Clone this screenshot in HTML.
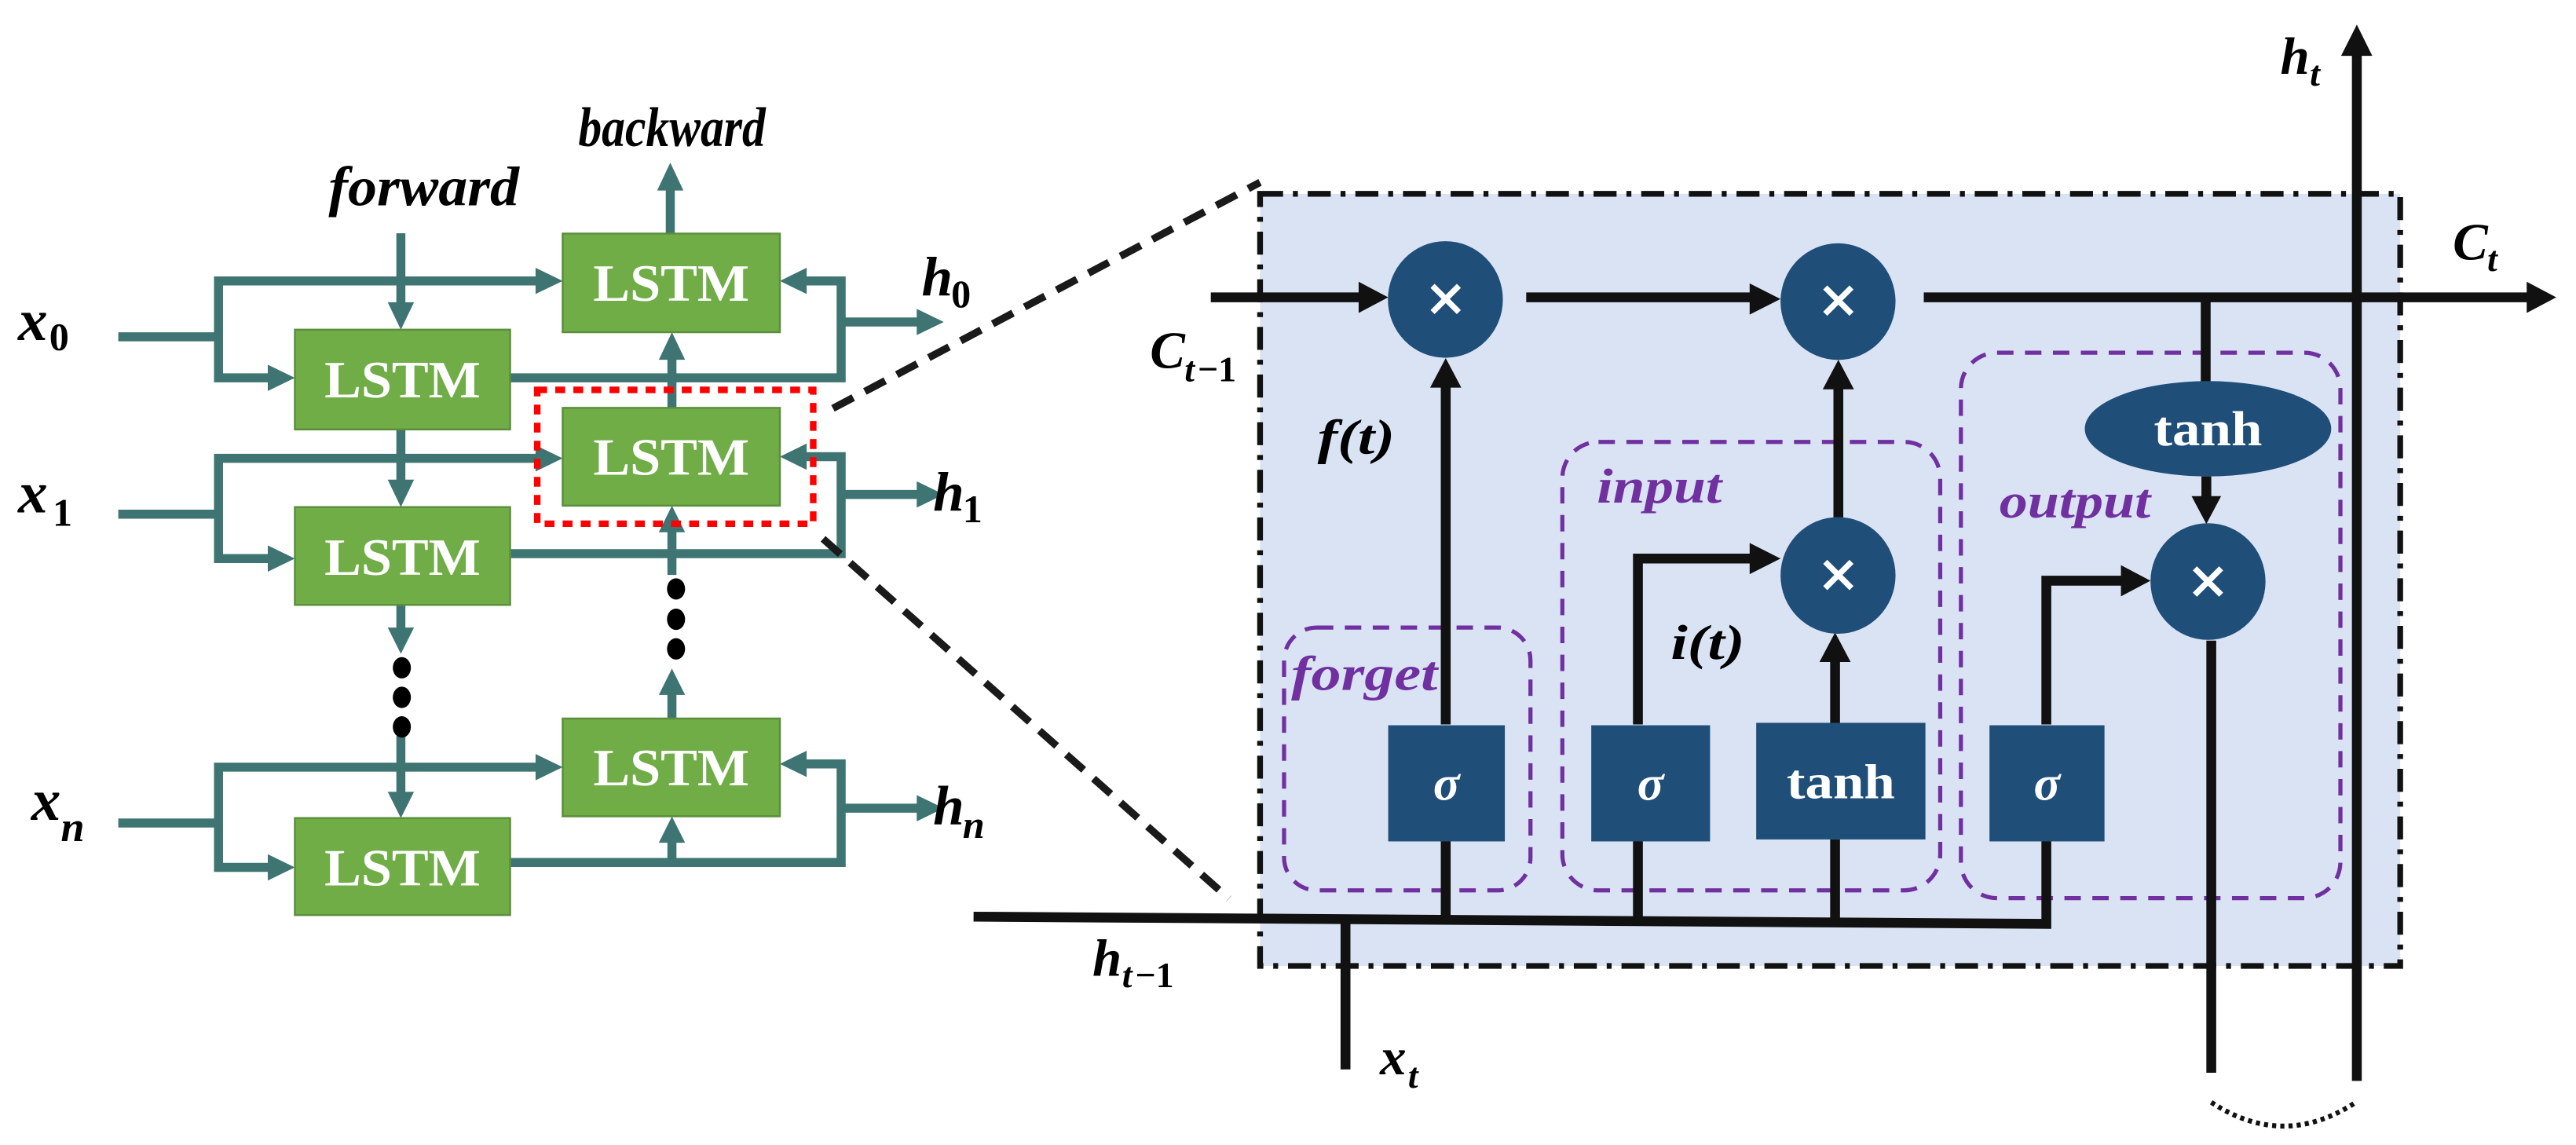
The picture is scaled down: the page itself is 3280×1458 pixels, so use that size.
<!DOCTYPE html>
<html><head><meta charset="utf-8"><style>
html,body{margin:0;padding:0;background:#fff;}
svg{display:block;}
text{font-family:"Liberation Serif",serif;}
</style></head><body>
<svg width="3280" height="1458" viewBox="0 0 1568 697" xmlns="http://www.w3.org/2000/svg">
<g fill="none" stroke="#3e7572" stroke-width="5.5" stroke-linejoin="miter">
 <line x1="72" y1="205" x2="133" y2="205"/>
 <polyline points="330,171 133,171 133,230 168,230"/>
 <line x1="244" y1="142" x2="244" y2="188"/>
 <polyline points="310.5,230 512,230 512,171 488,171"/>
 <line x1="512" y1="196" x2="560" y2="196"/>
 <line x1="408" y1="142" x2="408" y2="114"/>
 <line x1="409" y1="248" x2="409" y2="216"/>
 <line x1="72" y1="313" x2="133" y2="313"/>
 <polyline points="330,279 133,279 133,340 168,340"/>
 <line x1="244" y1="261" x2="244" y2="296"/>
 <polyline points="310.5,337 512,337 512,278 488,278"/>
 <line x1="512" y1="301" x2="560" y2="301"/>
 <line x1="244" y1="368" x2="244" y2="386"/>
 <line x1="244" y1="448" x2="244" y2="485"/>
 <line x1="409" y1="350" x2="409" y2="322"/>
 <line x1="409" y1="437" x2="409" y2="421"/>
 <line x1="72" y1="501" x2="133" y2="501"/>
 <polyline points="330,467 133,467 133,528 168,528"/>
 <polyline points="310.5,525 512,525 512,465 488,465"/>
 <line x1="512" y1="492" x2="560" y2="492"/>
 <line x1="409" y1="525" x2="409" y2="511"/>
</g>
<g fill="#3e7572">
 <polygon points="342.5,171 326,163 326,179"/>
 <polygon points="179.5,230 163,222 163,238"/>
 <polygon points="244,200.7 236,184 252,184"/>
 <polygon points="474.7,171 491,163 491,179"/>
 <polygon points="574.5,196 558,188 558,204"/>
 <polygon points="408,99 400,116 416,116"/>
 <polygon points="409,202.2 401,219 417,219"/>
 <polygon points="342.5,279 326,271 326,287"/>
 <polygon points="179.5,340 163,332 163,348"/>
 <polygon points="244,308.7 236,292 252,292"/>
 <polygon points="474.7,278 491,270 491,286"/>
 <polygon points="574.5,301 558,293 558,309"/>
 <polygon points="244,398 236,382 252,382"/>
 <polygon points="244,498 236,482 252,482"/>
 <polygon points="409,307.8 401,324 417,324"/>
 <polygon points="409,407 401,423 417,423"/>
 <polygon points="342.5,467 326,459 326,475"/>
 <polygon points="179.5,528 163,520 163,536"/>
 <polygon points="474.7,465 491,457 491,473"/>
 <polygon points="574.5,492 558,484 558,500"/>
 <polygon points="409,497 401,513 417,513"/>
</g>
<g fill="#000">
 <ellipse cx="244.6" cy="406.5" rx="5.5" ry="6.5"/><ellipse cx="244.6" cy="424.5" rx="5.5" ry="6.5"/><ellipse cx="244.6" cy="442.5" rx="5.5" ry="6.5"/>
 <ellipse cx="411.5" cy="358.5" rx="5.5" ry="6.5"/><ellipse cx="411.5" cy="377" rx="5.5" ry="6.5"/><ellipse cx="411.5" cy="395" rx="5.5" ry="6.5"/>
</g>
<g fill="#70ad47" stroke="#5b8f3b" stroke-width="1.2">
 <rect x="179.5" y="200.7" width="131" height="60.7"/>
 <rect x="342.5" y="142.2" width="132.2" height="60"/>
 <rect x="179.5" y="308.7" width="131" height="59.5"/>
 <rect x="342.5" y="248.3" width="132.2" height="59.5"/>
 <rect x="342.5" y="437.4" width="132.2" height="59.5"/>
 <rect x="179.5" y="498" width="131" height="59"/>
</g>
<g fill="#fff" font-weight="bold" font-size="32" text-anchor="middle">
 <text x="245" y="242" textLength="95" lengthAdjust="spacingAndGlyphs">LSTM</text>
 <text x="408.6" y="183" textLength="95" lengthAdjust="spacingAndGlyphs">LSTM</text>
 <text x="245" y="350" textLength="95" lengthAdjust="spacingAndGlyphs">LSTM</text>
 <text x="408.6" y="289" textLength="95" lengthAdjust="spacingAndGlyphs">LSTM</text>
 <text x="408.6" y="478" textLength="95" lengthAdjust="spacingAndGlyphs">LSTM</text>
 <text x="245" y="539" textLength="95" lengthAdjust="spacingAndGlyphs">LSTM</text>
</g>
<rect x="327" y="237.3" width="168" height="81.5" fill="none" stroke="#f00" stroke-width="4" stroke-dasharray="6 5"/>
<g font-weight="bold" font-style="italic" fill="#000">
 <text x="200" y="125" font-size="34" textLength="116" lengthAdjust="spacingAndGlyphs">forward</text>
 <text x="352" y="89" font-size="34" textLength="114" lengthAdjust="spacingAndGlyphs">backward</text>
 <text x="11" y="207" font-size="36">x</text><text x="30" y="213" font-size="24" font-style="normal">0</text>
 <text x="11" y="312" font-size="36">x</text><text x="32" y="320" font-size="24" font-style="normal">1</text>
 <text x="19" y="499" font-size="36">x</text><text x="37" y="512" font-size="26">n</text>
 <text x="561" y="180" font-size="34">h</text><text x="579" y="187" font-size="24" font-style="normal">0</text>
 <text x="568" y="311" font-size="34">h</text><text x="586" y="318" font-size="24" font-style="normal">1</text>
 <text x="568" y="502" font-size="34">h</text><text x="586" y="510" font-size="24">n</text>
</g>
<g stroke="#1a1a1a" stroke-width="4.5" stroke-dasharray="14 8">
 <line x1="507" y1="248.6" x2="767" y2="111"/>
 <line x1="501" y1="328" x2="748" y2="547"/>
</g>
<rect x="767" y="118" width="694" height="470" fill="#dae3f3" stroke="#111" stroke-width="3.5" stroke-dasharray="14 6 3 6"/>
<g fill="none" stroke="#7030a0" stroke-width="2.5" stroke-dasharray="10 7">
 <rect x="781.6" y="382" width="150" height="160" rx="20"/>
 <rect x="951" y="269" width="230" height="273" rx="22"/>
 <rect x="1193.6" y="214.7" width="231" height="332" rx="22"/>
</g>
<g fill="none" stroke="#111" stroke-width="6">
 <line x1="737" y1="181" x2="828" y2="181"/>
 <line x1="929" y1="181" x2="1067" y2="181"/>
 <line x1="1171" y1="181" x2="1540" y2="181"/>
 <line x1="1342.6" y1="181" x2="1342.6" y2="233"/>
 <line x1="1343" y1="290" x2="1343" y2="305"/>
 <line x1="1346" y1="390" x2="1346" y2="653"/>
 <line x1="1434.6" y1="658" x2="1434.6" y2="30"/>
 <line x1="880" y1="441" x2="880" y2="234"/>
 <polyline points="997,441 997,340 1066,340"/>
 <line x1="1117" y1="441" x2="1117" y2="402"/>
 <line x1="1119" y1="315" x2="1119" y2="236"/>
 <polyline points="1245.6,441 1245.6,353.5 1292,353.5"/>
 <polyline points="592.6,558 1245.6,562.4 1245.6,512"/>
 <line x1="880" y1="512" x2="880" y2="559"/>
 <line x1="997" y1="512" x2="997" y2="560"/>
 <line x1="1117" y1="511" x2="1117" y2="561"/>
 <line x1="819" y1="559" x2="819" y2="651"/>
</g>
<path d="M1346,671 Q1390,700 1434,671" fill="none" stroke="#111" stroke-width="3" stroke-dasharray="2.5 2.5"/>
<g fill="#111">
 <polygon points="845,181 827,171.5 827,190.5"/>
 <polygon points="1083.8,182 1065,172.5 1065,191.5"/>
 <polygon points="1556,181 1538,171.5 1538,190.5"/>
 <polygon points="1434.6,15 1425,34 1444,34"/>
 <polygon points="880,218 870.5,236 889.5,236"/>
 <polygon points="1119,219 1109.5,237 1128.5,237"/>
 <polygon points="1083.8,340 1065,330.5 1065,349.5"/>
 <polygon points="1117,385 1107.5,403 1126.5,403"/>
 <polygon points="1343,319 1334,302 1352,302"/>
 <polygon points="1309,353.5 1291,344 1291,363"/>
</g>
<g fill="#1f4e79">
 <ellipse cx="879.8" cy="182.3" rx="35" ry="35.5"/>
 <ellipse cx="1118.8" cy="183.6" rx="35" ry="35.5"/>
 <ellipse cx="1118.8" cy="350.3" rx="35" ry="35.5"/>
 <ellipse cx="1344" cy="354" rx="35" ry="35.5"/>
 <ellipse cx="1344" cy="261" rx="75" ry="29"/>
 <rect x="845" y="441.5" width="71" height="70.7"/>
 <rect x="968.6" y="441.5" width="72.3" height="70.7"/>
 <rect x="1069" y="440" width="103" height="71"/>
 <rect x="1211" y="441.5" width="70" height="70.7"/>
</g>
<g stroke="#fff" stroke-width="3.5">
 <path d="M872,174 L888,190 M888,174 L872,190"/>
 <path d="M1111,175 L1127,191 M1127,175 L1111,191"/>
 <path d="M1111,342 L1127,358 M1127,342 L1111,358"/>
 <path d="M1336,346 L1352,362 M1352,346 L1336,362"/>
</g>
<g fill="#fff" font-weight="bold" text-anchor="middle">
 <text x="880.5" y="487" font-size="30" font-style="italic">σ</text>
 <text x="1004.7" y="487" font-size="30" font-style="italic">σ</text>
 <text x="1246" y="487" font-size="30" font-style="italic">σ</text>
 <text x="1120.5" y="486" font-size="30" textLength="66" lengthAdjust="spacingAndGlyphs">tanh</text>
 <text x="1344" y="271" font-size="30" textLength="66" lengthAdjust="spacingAndGlyphs">tanh</text>
</g>
<g fill="#7030a0" font-weight="bold" font-style="italic" font-size="30">
 <text x="786" y="420" textLength="89" lengthAdjust="spacingAndGlyphs">forget</text>
 <text x="972" y="306" textLength="76" lengthAdjust="spacingAndGlyphs">input</text>
 <text x="1217" y="315" textLength="92" lengthAdjust="spacingAndGlyphs">output</text>
</g>
<g fill="#000" font-weight="bold" font-style="italic">
 <text x="802" y="276" font-size="30" textLength="47" lengthAdjust="spacingAndGlyphs">f(t)</text>
 <text x="1017" y="401" font-size="30" textLength="45" lengthAdjust="spacingAndGlyphs">i(t)</text>
 <text x="1388" y="45" font-size="32">h</text><text x="1406" y="52" font-size="22">t</text>
 <text x="1493" y="158" font-size="32">C</text><text x="1514" y="165" font-size="22">t</text>
 <text x="700" y="224" font-size="32">C</text><text x="721" y="232" font-size="22">t</text><text x="729" y="232" font-size="22" font-style="normal">−1</text>
 <text x="665" y="594" font-size="32">h</text><text x="683" y="601" font-size="22">t</text><text x="691" y="601" font-size="22" font-style="normal">−1</text>
 <text x="840" y="654" font-size="32">x</text><text x="857" y="662" font-size="22">t</text>
</g>
</svg>
</body></html>
